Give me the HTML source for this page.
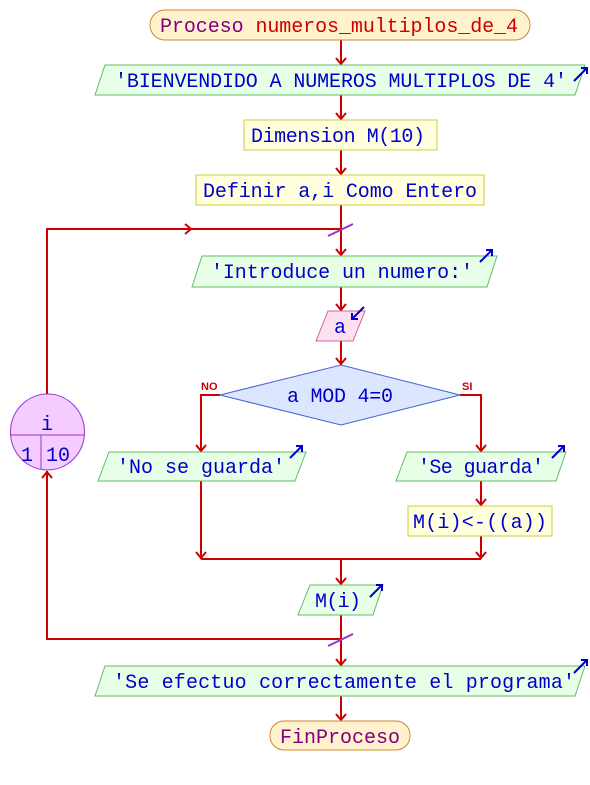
<!DOCTYPE html>
<html><head><meta charset="utf-8"><style>
html,body{margin:0;padding:0;background:#fff;}
svg{display:block;}
text{font-family:"Liberation Mono",monospace;font-size:20px;}
</style></head><body>
<svg width="590" height="785" viewBox="0 0 590 785" xmlns="http://www.w3.org/2000/svg">
<g stroke="#cc0000" stroke-width="2" fill="none">
<line x1="341" y1="40" x2="341" y2="65"/>
<line x1="341" y1="95" x2="341" y2="120"/>
<line x1="341" y1="150" x2="341" y2="175"/>
<line x1="341" y1="205" x2="341" y2="256"/>
<line x1="341" y1="287" x2="341" y2="311"/>
<line x1="341" y1="341" x2="341" y2="365"/>
<polyline points="220,395 201,395 201,452"/>
<polyline points="460,395 481,395 481,452"/>
<line x1="481" y1="481" x2="481" y2="506"/>
<line x1="201" y1="481" x2="201" y2="559"/>
<line x1="481" y1="536" x2="481" y2="559"/>
<line x1="201" y1="559" x2="481" y2="559"/>
<line x1="341" y1="559" x2="341" y2="585"/>
<line x1="341" y1="615" x2="341" y2="666"/>
<line x1="341" y1="696" x2="341" y2="721"/>
<polyline points="341,229 47,229 47,394"/>
<polyline points="341,639 47,639 47,471"/>
<g stroke-width="2">
<polyline points="336,58 341,64 346,58"/>
<polyline points="336,113 341,119 346,113"/>
<polyline points="336,168 341,174 346,168"/>
<polyline points="336,249 341,255 346,249"/>
<polyline points="336,304 341,310 346,304"/>
<polyline points="336,358 341,364 346,358"/>
<polyline points="196,445 201,451 206,445"/>
<polyline points="476,445 481,451 486,445"/>
<polyline points="476,499 481,505 486,499"/>
<polyline points="196,552 201,558 206,552"/>
<polyline points="476,552 481,558 486,552"/>
<polyline points="336,578 341,584 346,578"/>
<polyline points="336,659 341,665 346,659"/>
<polyline points="336,714 341,720 346,714"/>
<polyline points="185,224 191,229 185,234"/>
<polyline points="42,478 47,472 52,478"/>
</g>
</g>
<line x1="328" y1="236" x2="353" y2="224" stroke="#9933cc" stroke-width="2"/>
<line x1="328" y1="646" x2="353" y2="634" stroke="#9933cc" stroke-width="2"/>

<rect x="150" y="10" width="380" height="30" rx="15" fill="#fff2cc" stroke="#cc8833"/>
<text x="160" y="32" textLength="358" lengthAdjust="spacing"><tspan fill="#800080">Proceso </tspan><tspan fill="#cc0000">numeros_multiplos_de_4</tspan></text>

<polygon points="105,65 585,65 575,95 95,95" fill="#e6ffe6" stroke="#66bb66"/>
<text x="115" y="87" fill="#0000cc" textLength="452" lengthAdjust="spacing">'BIENVENDIDO A NUMEROS MULTIPLOS DE 4'</text>

<rect x="244" y="120" width="193" height="30" fill="#ffffdd" stroke="#cccc44"/>
<text x="251" y="142" fill="#0000cc" textLength="174" lengthAdjust="spacing">Dimension M(10)</text>

<rect x="196" y="175" width="288" height="30" fill="#ffffdd" stroke="#cccc44"/>
<text x="203" y="197" fill="#0000cc" textLength="274" lengthAdjust="spacing">Definir a,i Como Entero</text>

<polygon points="202,256 497,256 487,287 192,287" fill="#e6ffe6" stroke="#66bb66"/>
<text x="211" y="278" fill="#0000cc" textLength="262" lengthAdjust="spacing">'Introduce un numero:'</text>

<polygon points="328,311 365,311 353,341 316,341" fill="#ffe0f0" stroke="#cc6699"/>
<text x="334" y="333" fill="#0000cc">a</text>

<polygon points="341,365 460,395 341,425 220,395" fill="#dde6ff" stroke="#4466cc"/>
<text x="287" y="402" fill="#0000cc" textLength="106" lengthAdjust="spacing">a MOD 4=0</text>
<text x="201" y="390" fill="#cc0000" style="font-size:11px;font-weight:bold;font-family:'Liberation Sans',sans-serif">NO</text>
<text x="462" y="390" fill="#cc0000" style="font-size:11px;font-weight:bold;font-family:'Liberation Sans',sans-serif">SI</text>

<polygon points="109,452 306,452 295,481 98,481" fill="#e6ffe6" stroke="#66bb66"/>
<text x="117" y="473" fill="#0000cc" textLength="168" lengthAdjust="spacing">'No se guarda'</text>

<polygon points="407,452 566,452 556,481 396,481" fill="#e6ffe6" stroke="#66bb66"/>
<text x="418" y="473" fill="#0000cc" textLength="126" lengthAdjust="spacing">'Se guarda'</text>

<rect x="408" y="506" width="144" height="30" fill="#ffffdd" stroke="#cccc44"/>
<text x="413" y="528" fill="#0000cc" textLength="134" lengthAdjust="spacing">M(i)&lt;-((a))</text>

<polygon points="310,585 383,585 373,615 298,615" fill="#e6ffe6" stroke="#66bb66"/>
<text x="315" y="607" fill="#0000cc" textLength="46" lengthAdjust="spacing">M(i)</text>

<polygon points="105,666 585,666 575,696 95,696" fill="#e6ffe6" stroke="#66bb66"/>
<text x="113" y="688" fill="#0000cc" textLength="462" lengthAdjust="spacing">'Se efectuo correctamente el programa'</text>

<rect x="270" y="721" width="140" height="29" rx="14" fill="#fff2cc" stroke="#cc8833"/>
<text x="280" y="743" fill="#800080" textLength="120" lengthAdjust="spacing">FinProceso</text>

<ellipse cx="47.5" cy="432" rx="37" ry="38" fill="#f5ccff" stroke="#9933cc"/>
<line x1="10" y1="435" x2="85" y2="435" stroke="#9933cc"/>
<line x1="41" y1="435" x2="41" y2="469" stroke="#9933cc"/>
<text x="41" y="430" fill="#0000cc">i</text>
<text x="21" y="461" fill="#0000cc">1</text>
<text x="46" y="461" fill="#0000cc" textLength="24" lengthAdjust="spacingAndGlyphs">10</text>

<g stroke="#0000cc" stroke-width="2" fill="none">
<line x1="574" y1="81" x2="587" y2="68"/><polyline points="581,68 587,68 587,74"/>
<line x1="480" y1="262" x2="492" y2="250"/><polyline points="486,250 492,250 492,256"/>
<line x1="364" y1="307" x2="352" y2="319"/><polyline points="352,313 352,319 358,319"/>
<line x1="290" y1="458" x2="302" y2="446"/><polyline points="296,446 302,446 302,452"/>
<line x1="552" y1="458" x2="564" y2="446"/><polyline points="558,446 564,446 564,452"/>
<line x1="370" y1="597" x2="382" y2="585"/><polyline points="376,585 382,585 382,591"/>
<line x1="574" y1="673" x2="587" y2="660"/><polyline points="581,660 587,660 587,666"/>
</g>
</svg>
</body></html>
